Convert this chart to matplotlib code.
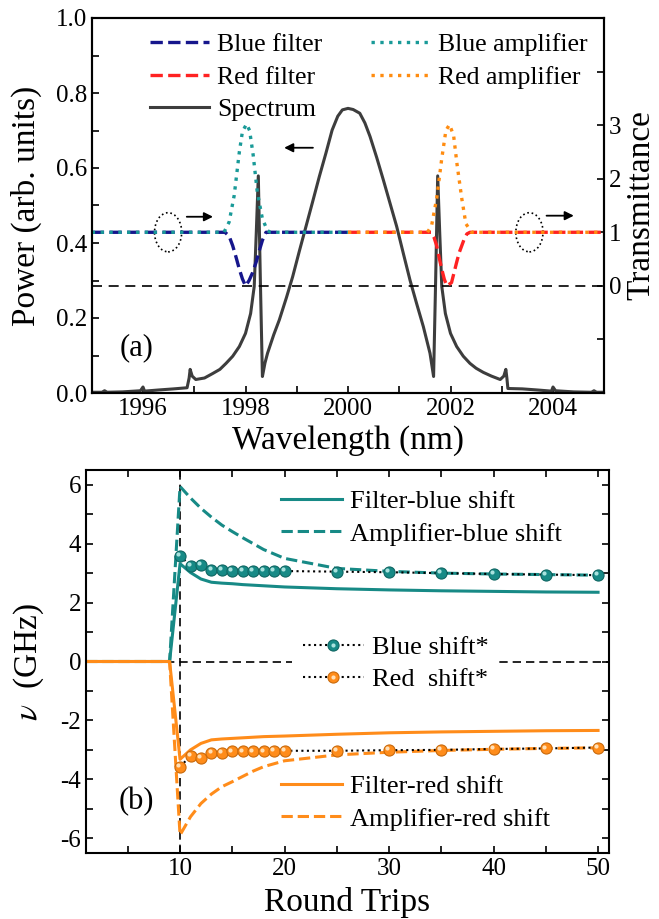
import matplotlib
matplotlib.use('Agg')
import matplotlib.pyplot as plt
from matplotlib.patches import Ellipse
from matplotlib.ticker import MultipleLocator, FormatStrFormatter, FixedLocator
from matplotlib.transforms import ScaledTranslation
from matplotlib.legend_handler import HandlerTuple

plt.rcParams['font.family'] = ['Liberation Serif', 'DejaVu Serif']
plt.rcParams['mathtext.fontset'] = 'stix'
plt.rcParams['axes.unicode_minus'] = False
plt.rcParams['axes.linewidth'] = 1.5
plt.rcParams['xtick.direction'] = 'in'
plt.rcParams['ytick.direction'] = 'in'

# --- (a) spectrum and filter / amplifier transmittance ---
spec_wl = [1995.0, 1995.2, 1995.25, 1995.3, 1995.6, 1995.95, 1996.0, 1996.03, 1996.3,
           1996.6, 1996.86, 1996.9, 1996.92, 1996.96, 1997.03, 1997.2, 1997.36, 1997.5,
           1997.62, 1997.75, 1997.88, 1998.0, 1998.1, 1998.17, 1998.21, 1998.25, 1998.29,
           1998.33, 1998.38, 1998.43, 1998.55, 1998.66, 1998.8, 1998.92, 1999.05, 1999.18,
           1999.31, 1999.44, 1999.57, 1999.69, 1999.8, 1999.89, 2000.0, 2000.1, 2000.23,
           2000.33, 2000.43, 2000.56, 2000.69, 2000.82, 2000.95, 2001.08, 2001.21, 2001.34,
           2001.47, 2001.6, 2001.67, 2001.71, 2001.75, 2001.79, 2001.83, 2001.9, 2002.0,
           2002.12, 2002.25, 2002.38, 2002.5, 2002.64, 2002.8, 2002.97, 2003.04, 2003.08,
           2003.1, 2003.12, 2003.4, 2003.7, 2003.97, 2004.0, 2004.05, 2004.4, 2004.75,
           2004.8, 2004.85, 2005.0]
spec_pw = [0.002, 0.002, 0.006, 0.002, 0.003, 0.006, 0.016, 0.005, 0.008,
           0.011, 0.014, 0.040, 0.063, 0.045, 0.036, 0.040, 0.052, 0.063,
           0.079, 0.098, 0.124, 0.159, 0.212, 0.284, 0.426, 0.579, 0.300,
           0.044, 0.080, 0.106, 0.155, 0.195, 0.255, 0.310, 0.378, 0.444,
           0.510, 0.577, 0.640, 0.701, 0.738, 0.755, 0.759, 0.756, 0.746,
           0.720, 0.684, 0.628, 0.568, 0.506, 0.444, 0.372, 0.301, 0.238,
           0.177, 0.106, 0.044, 0.300, 0.579, 0.426, 0.284, 0.212, 0.159,
           0.124, 0.098, 0.079, 0.066, 0.055, 0.045, 0.036, 0.045, 0.063,
           0.040, 0.012, 0.011, 0.008, 0.005, 0.016, 0.006, 0.003, 0.002,
           0.006, 0.002, 0.002]

bfilt_wl = [1995.0, 1997.6, 1997.68, 1997.75, 1997.82, 1997.88, 1997.94, 1998.0,
            1998.07, 1998.14, 1998.21, 1998.27, 1998.33, 1998.4, 2000.0]
bfilt_t = [1, 1, 0.93, 0.75, 0.52, 0.31, 0.13, 0.0, 0.10, 0.25, 0.45, 0.66, 0.85, 1, 1]

rfilt_wl = [2000.0, 2001.62, 2001.68, 2001.73, 2001.78, 2001.83, 2001.88, 2001.93,
            2002.02, 2002.07, 2002.12, 2002.17, 2002.22, 2002.27, 2002.32, 2002.38, 2005.0]
rfilt_t = [1, 1, 0.9, 0.75, 0.52, 0.31, 0.12, 0.0, 0.06, 0.25, 0.44, 0.62, 0.75, 0.88,
           0.97, 1, 1]

bamp_wl = [1995.0, 1997.58, 1997.68, 1997.78, 1997.88, 1997.94, 1998.02, 1998.08,
           1998.15, 1998.23, 1998.33, 1998.43, 1998.49, 2000.0]
bamp_t = [1, 1, 1.19, 1.69, 2.5, 2.88, 3.02, 2.9, 2.44, 1.75, 1.25, 1.03, 1, 1]

ramp_wl = [2000.0, 2001.55, 2001.63, 2001.73, 2001.83, 2001.91, 2001.98, 2002.06,
           2002.13, 2002.22, 2002.3, 2002.41, 2005.0]
ramp_t = [1, 1, 1.12, 1.63, 2.38, 2.9, 3.01, 2.81, 2.25, 1.63, 1.16, 1, 1]

# --- (b) frequency shift vs round trips ---
rt = [1, 9, 10, 11, 12, 13, 14, 15, 16, 17, 18, 19, 20, 25, 30, 35, 40, 45, 50]
filt_blue = [0, 0, 3.32, 3.02, 2.8, 2.69, 2.66, 2.64, 2.61, 2.59, 2.57, 2.55, 2.53,
             2.47, 2.43, 2.40, 2.38, 2.36, 2.35]
amp_blue = [0, 0, 5.94, 5.55, 5.2, 4.9, 4.63, 4.41, 4.2, 4.0, 3.8, 3.65, 3.5,
            3.16, 3.06, 3.0, 2.97, 2.95, 2.93]
filt_red = [0, 0, -3.32, -3.0, -2.78, -2.66, -2.63, -2.61, -2.59, -2.57, -2.55, -2.54,
            -2.53, -2.47, -2.42, -2.39, -2.37, -2.35, -2.34]
amp_red = [0, 0, -5.89, -5.27, -4.82, -4.5, -4.25, -4.08, -3.9, -3.72, -3.57, -3.47,
           -3.37, -3.17, -3.08, -3.02, -2.98, -2.95, -2.93]

rt_mark = [10, 11, 12, 13, 14, 15, 16, 17, 18, 19, 20, 25, 30, 35, 40, 45, 50]
blue_mark = [3.59, 3.25, 3.27, 3.12, 3.12, 3.08, 3.08, 3.08, 3.08, 3.08, 3.07,
             3.05, 3.03, 3.0, 2.97, 2.95, 2.93]
red_mark = [-3.57, -3.21, -3.26, -3.1, -3.1, -3.05, -3.05, -3.05, -3.05, -3.04, -3.03,
            -3.03, -3.01, -3.0, -2.97, -2.95, -2.92]

NAVY = '#16168c'
RED = '#ff2222'
TEAL_A = '#199a98'
ORANGE_A = '#ff8c10'
GREY = '#3d3d3d'
TEAL = '#178a86'
ORANGE = '#ff8c1a'

fig = plt.figure(figsize=(6.59, 9.19), dpi=100)
ax1 = fig.add_axes([91.75 / 659, 1 - 393 / 919, 512.5 / 659, 375 / 919])
ax1t = ax1.twinx()
ax2 = fig.add_axes([86 / 659, 1 - 853 / 919, 522.5 / 659, 383 / 919])

# ---------- panel (a) ----------
h_spec, = ax1.plot(spec_wl, spec_pw, color=GREY, lw=2.2, label='Spectrum')
ax1.set_xlim(1995, 2005)
ax1.set_ylim(0, 1.0)
ax1.xaxis.set_major_locator(MultipleLocator(2))
ax1.xaxis.set_minor_locator(MultipleLocator(1))
ax1.yaxis.set_major_locator(MultipleLocator(0.2))
ax1.yaxis.set_minor_locator(MultipleLocator(0.1))
ax1.yaxis.set_major_formatter(FormatStrFormatter('%.1f'))
ax1.tick_params(which='both', length=5, width=1.2, labelsize=18, top=False, right=False)
ax1.set_xlabel('Wavelength (nm)', fontsize=24, labelpad=4)
ax1.set_ylabel('Power (arb. units)', fontsize=24, labelpad=10)
ax1.text(1995.88, 0.12, '(a)', fontsize=22, ha='center', va='center')
ax1.annotate('', xy=(1998.7, 0.654), xytext=(1999.37, 0.654),
             arrowprops=dict(arrowstyle='-|>', color='k', lw=1.3, mutation_scale=13))

ax1t.axhline(0, color='k', lw=1.2, ls=(0, (6, 4)))
h_bf, = ax1t.plot(bfilt_wl, bfilt_t, color=NAVY, lw=2.4, ls='--', label='Blue filter')
h_rf, = ax1t.plot(rfilt_wl, rfilt_t, color=RED, lw=2.4, ls='--', label='Red filter')
h_ba, = ax1t.plot(bamp_wl, bamp_t, color=TEAL_A, lw=2.4, ls=':', label='Blue amplifier')
h_ra, = ax1t.plot(ramp_wl, ramp_t, color=ORANGE_A, lw=2.4, ls=':', label='Red amplifier')
ax1t.set_ylim(-2, 5)
ax1t.yaxis.set_major_locator(FixedLocator([-1, 0, 1, 2, 3, 4]))
ax1t.set_yticklabels(['', '0', '1', '2', '3', ''])
ax1t.tick_params(length=5, width=1.2, labelsize=18, direction='in')
ax1t.set_ylabel('Transmittance', fontsize=24, labelpad=3)

for cx in (1996.49, 2003.54):
    ax1t.add_patch(Ellipse((cx, 1.0), 0.53, 0.73, fill=False, ec='k', lw=1.2, ls=':'))
ax1t.annotate('', xy=(1997.42, 1.29), xytext=(1996.8, 1.29),
              arrowprops=dict(arrowstyle='-|>', color='k', lw=1.3, mutation_scale=13))
ax1t.annotate('', xy=(2004.46, 1.31), xytext=(2003.82, 1.31),
              arrowprops=dict(arrowstyle='-|>', color='k', lw=1.3, mutation_scale=13))

ax1t.legend([h_bf, h_rf, h_spec, h_ba, h_ra],
            ['Blue filter', 'Red filter', 'Spectrum', 'Blue amplifier', 'Red amplifier'],
            ncol=2, loc='upper left', bbox_to_anchor=(0.114, 0.96), frameon=False,
            fontsize=18.5, handlelength=2.3, handletextpad=0.3, labelspacing=0.38,
            columnspacing=1.9, borderpad=0, borderaxespad=0)

# ---------- panel (b) ----------
ax2.axvline(10, color='k', lw=1.2, ls=(0, (5, 3)), zorder=1)
ax2.axhline(0, color='k', lw=1.2, ls=(0, (5, 3)), zorder=1)

h_fb, = ax2.plot(rt, filt_blue, color=TEAL, lw=2.2, label='Filter-blue shift')
h_ab, = ax2.plot(rt, amp_blue, color=TEAL, lw=2.2, ls='--', label='Amplifier-blue shift')
h_ar, = ax2.plot(rt, amp_red, color=ORANGE, lw=2.2, ls='--', label='Amplifier-red shift')
h_fr, = ax2.plot(rt, filt_red, color=ORANGE, lw=2.2, label='Filter-red shift')

shine = ScaledTranslation(-1.3 / 72, 1.3 / 72, fig.dpi_scale_trans)
h_bm, = ax2.plot(rt_mark, blue_mark, color='k', ls=':', lw=1.5, marker='o', ms=8,
                 mfc=TEAL, mec='#0f6663', mew=0.8, zorder=5)
h_bs, = ax2.plot(rt_mark, blue_mark, ls='none', marker='o', ms=3, mfc='#a9e2de',
                 mec='none', transform=ax2.transData + shine, zorder=6)
h_rm, = ax2.plot(rt_mark, red_mark, color='k', ls=':', lw=1.5, marker='o', ms=8,
                 mfc=ORANGE, mec='#c96a0c', mew=0.8, zorder=5)
h_rs, = ax2.plot(rt_mark, red_mark, ls='none', marker='o', ms=3, mfc='#ffe0b8',
                 mec='none', transform=ax2.transData + shine, zorder=6)

ax2.set_xlim(1, 51)
ax2.set_ylim(-6.5, 6.5)
ax2.xaxis.set_major_locator(MultipleLocator(10))
ax2.xaxis.set_minor_locator(MultipleLocator(5))
ax2.yaxis.set_major_locator(MultipleLocator(2))
ax2.yaxis.set_minor_locator(MultipleLocator(1))
ax2.tick_params(which='both', length=5, width=1.2, labelsize=18, top=True, right=True)
ax2.set_xlabel('Round Trips', fontsize=24, labelpad=5)
ax2.set_ylabel(r'$\nu$  (GHz)', fontsize=24, labelpad=10)
ax2.text(5.84, -4.76, '(b)', fontsize=22, ha='center', va='center')

leg_kw = dict(fontsize=19, handlelength=2.3, handletextpad=0.3, labelspacing=0.33,
              loc='upper left', borderaxespad=0)
leg_b1 = ax2.legend([h_fb, h_ab], ['Filter-blue shift', 'Amplifier-blue shift'],
                    bbox_to_anchor=(0.374, 0.948), frameon=False, borderpad=0, **leg_kw)
ax2.add_artist(leg_b1)
leg_b2 = ax2.legend([(h_bm, h_bs), (h_rm, h_rs)], ['Blue shift*', 'Red  shift*'],
                    handler_map={tuple: HandlerTuple(ndivide=1)}, numpoints=1,
                    bbox_to_anchor=(0.395, 0.596), frameon=True,
                    facecolor='white', edgecolor='none', framealpha=1, fancybox=False,
                    borderpad=0.4, **leg_kw)
ax2.add_artist(leg_b2)
ax2.legend([h_fr, h_ar], ['Filter-red shift', 'Amplifier-red shift'],
           bbox_to_anchor=(0.373, 0.204), frameon=False, borderpad=0, **leg_kw)

fig.savefig('out.png', dpi=100)
